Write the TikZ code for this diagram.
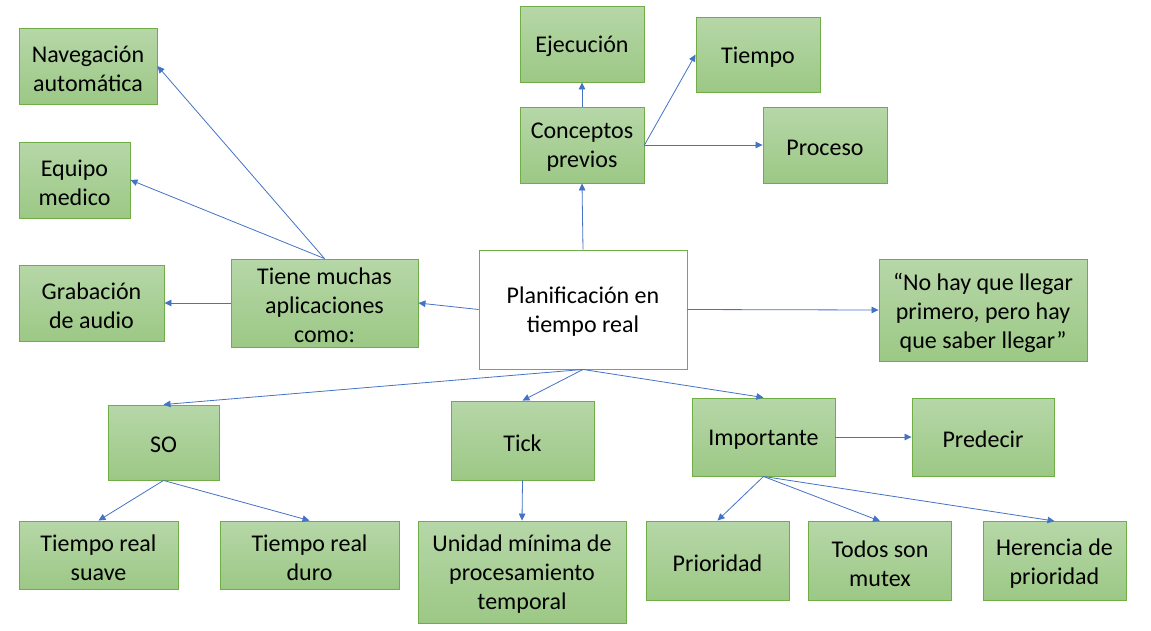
\documentclass[tikz,border=0pt]{standalone}
\usepackage{fontspec}
\setmainfont{Carlito}
\usetikzlibrary{arrows.meta}
\definecolor{gtop}{HTML}{B6D7A8}
\definecolor{gbot}{HTML}{9CC885}
\definecolor{bord}{HTML}{70AD47}
\definecolor{arr}{HTML}{4472C4}
\tikzset{
  txt/.style={align=center, inner sep=0pt, font=\fontsize{24}{29}\selectfont, yshift=-2.5pt},
  gbox/.style={draw=bord, line width=0.9pt, top color=gtop, bottom color=gbot, inner sep=0pt,
    label={[txt]center:#1}},
  wbox/.style={draw=bord, line width=0.9pt, fill=white, inner sep=0pt,
    label={[txt]center:#1}},
  conn/.style={draw=arr, line width=0.8pt, -{Triangle[length=7pt,width=6.5pt]}},
}
\begin{document}
\begin{tikzpicture}[x=1pt,y=-1pt]
\useasboundingbox (0,0) rectangle (1151,630);
\node[gbox={Navegación\\automática}, minimum width=138pt, minimum height=76pt] (nav) at (88,66) {};
\node[gbox={Equipo\\medico}, minimum width=111pt, minimum height=76pt] (equ) at (74.5,180) {};
\node[gbox={Grabación\\de audio}, minimum width=145pt, minimum height=76pt] (gra) at (91.5,303) {};
\node[gbox={Tiene muchas\\aplicaciones\\como:}, minimum width=187pt, minimum height=88pt] (tie) at (324.5,303) {};
\node[gbox={Ejecución}, minimum width=124pt, minimum height=76pt] (eje) at (582,44) {};
\node[gbox={Conceptos\\previos}, minimum width=124pt, minimum height=76pt] (con) at (582,145) {};
\node[gbox={Tiempo}, minimum width=124pt, minimum height=75pt] (tmp) at (758,54.5) {};
\node[gbox={Proceso}, minimum width=124pt, minimum height=76pt] (pro) at (825,145) {};
\node[wbox={Planificación en\\tiempo real}, minimum width=208pt, minimum height=119pt] (pla) at (583,309.5) {};
\node[gbox={“No hay que llegar\\primero, pero hay\\que saber llegar”}, minimum width=208pt, minimum height=102pt] (quo) at (983,310) {};
\node[gbox={SO}, minimum width=111pt, minimum height=75pt] (so) at (163.5,442.5) {};
\node[gbox={Tick}, minimum width=143pt, minimum height=79pt] (tic) at (522.5,440.5) {};
\node[gbox={Importante}, minimum width=143pt, minimum height=78pt] (imp) at (763.5,437) {};
\node[gbox={Predecir}, minimum width=142pt, minimum height=78pt] (pre) at (983,437) {};
\node[gbox={Tiempo real\\suave}, minimum width=159pt, minimum height=68pt] (sua) at (98.5,555) {};
\node[gbox={Tiempo real\\duro}, minimum width=179pt, minimum height=68pt] (dur) at (309.5,555) {};
\node[gbox={Unidad mínima de\\procesamiento\\temporal}, minimum width=208pt, minimum height=102pt] (uni) at (522,572) {};
\node[gbox={Prioridad}, minimum width=143pt, minimum height=79pt] (pri) at (717.5,560.5) {};
\node[gbox={Todos son\\mutex}, minimum width=143pt, minimum height=79pt] (tod) at (880,561) {};
\node[gbox={Herencia de\\prioridad}, minimum width=143pt, minimum height=79pt] (her) at (1054.5,561) {};

\draw[conn] (pla.north) -- (con.south);
\draw[conn] (con.north) -- (eje.south);
\draw[conn] (con.east) -- (tmp.west);
\draw[conn] (con.east) -- (pro.west);
\draw[conn] (pla.west) -- (tie.east);
\draw[conn] (tie.west) -- (gra.east);
\draw[conn] (tie.north) -- (nav.east);
\draw[conn] (tie.north) -- (equ.east);
\draw[conn] (pla.east) -- (quo.west);
\draw[conn] (pla.south) -- (so.north);
\draw[conn] (pla.south) -- (tic.north);
\draw[conn] (pla.south) -- (imp.north);
\draw[conn] (so.south) -- (sua.north);
\draw[conn] (so.south) -- (dur.north);
\draw[conn] (tic.south) -- (uni.north);
\draw[conn] (imp.east) -- (pre.west);
\draw[conn] (imp.south) -- (pri.north);
\draw[conn] (imp.south) -- (tod.north);
\draw[conn] (imp.south) -- (her.north);
\end{tikzpicture}
\end{document}
